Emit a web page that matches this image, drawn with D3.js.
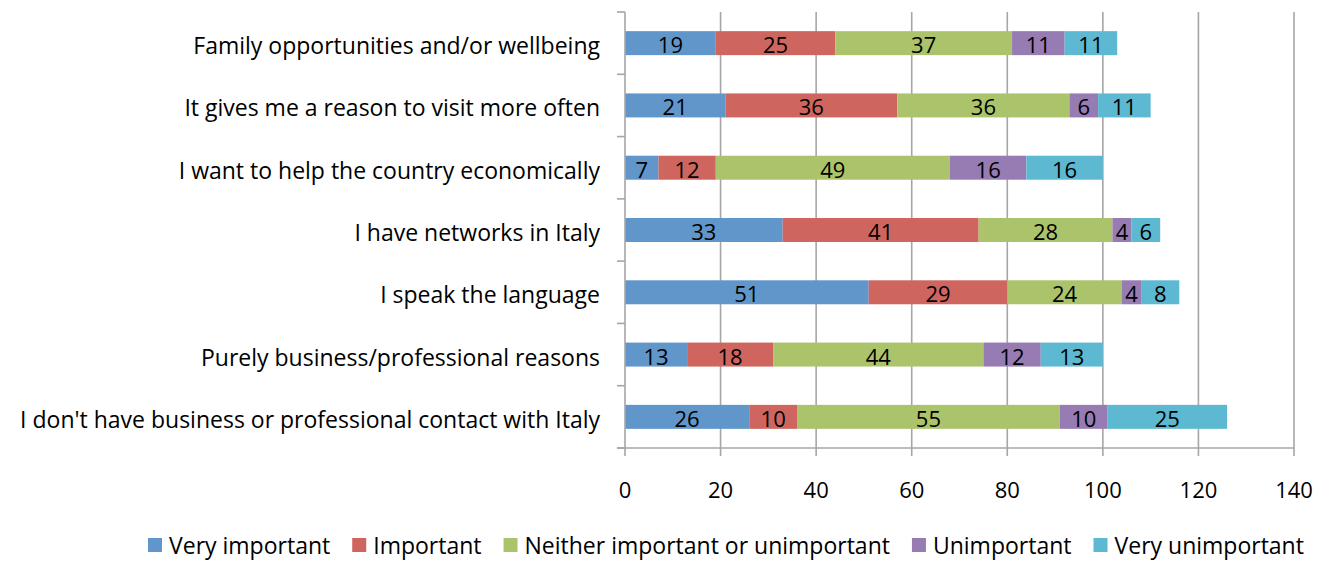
<!DOCTYPE html>
<html>
<head>
<meta charset="utf-8">
<script src="https://cdn.jsdelivr.net/npm/d3@7"></script>
<style>
  html, body { margin: 0; padding: 0; background: #fff; }
  svg { display: block; }
  text { font-family: "Open Sans", "Noto Sans", sans-serif; fill: #000; }
</style>
</head>
<body>
<svg id="chart" width="1333" height="561"></svg>
<script>
// Reasons for engaging with Italy, responses by importance
const categories = [
  "Family opportunities and/or wellbeing",
  "It gives me a reason to visit more often",
  "I want to help the country economically",
  "I have networks in Italy",
  "I speak the language",
  "Purely business/professional reasons",
  "I don't have business or professional contact with Italy"
];
const seriesNames = ["Very important", "Important", "Neither important or unimportant", "Unimportant", "Very unimportant"];
const veryImportant   = [19, 21, 7, 33, 51, 13, 26];
const important       = [25, 36, 12, 41, 29, 18, 10];
const neither         = [37, 36, 49, 28, 24, 44, 55];
const unimportant     = [11, 6, 16, 4, 4, 12, 10];
const veryUnimportant = [11, 11, 16, 6, 8, 13, 25];
const xTicks = [0, 20, 40, 60, 80, 100, 120, 140];
const colors = ["#6096c9", "#cf655f", "#abc46b", "#977bb3", "#5cb9d1"];

const seriesValues = [veryImportant, important, neither, unimportant, veryUnimportant];
const rows = categories.map((c, i) => {
  const r = { category: c };
  seriesNames.forEach((s, j) => { r[s] = seriesValues[j][i]; });
  return r;
});

const svg = d3.select("#chart");
const margin = { left: 625, right: 39, top: 12, bottom: 113 };
const W = 1333, H = 561;
const plotW = W - margin.left - margin.right;
const plotH = H - margin.top - margin.bottom;
const labelSize = 23, numSize = 22;

const x = d3.scaleLinear().domain([0, 140]).range([margin.left, margin.left + plotW]);
const y = d3.scaleBand().domain(categories).range([margin.top, margin.top + plotH]).paddingInner(0.615).paddingOuter(0.3075);

// vertical gridlines
svg.append("g").selectAll("line").data(xTicks.slice(1)).join("line")
  .attr("x1", d => x(d)).attr("x2", d => x(d))
  .attr("y1", margin.top).attr("y2", margin.top + plotH)
  .attr("stroke", "#a6a6a6").attr("stroke-width", 1.6);

const stacked = d3.stack().keys(seriesNames)(rows);

const groups = svg.append("g").selectAll("g").data(stacked).join("g")
  .attr("fill", (d, i) => colors[i]);

groups.selectAll("rect").data(d => d).join("rect")
  .attr("x", d => x(d[0]))
  .attr("width", d => x(d[1]) - x(d[0]))
  .attr("y", d => y(d.data.category))
  .attr("height", y.bandwidth());

groups.selectAll("text").data(d => d).join("text")
  .attr("x", d => (x(d[0]) + x(d[1])) / 2)
  .attr("y", d => y(d.data.category) + y.bandwidth() / 2 + 1)
  .attr("text-anchor", "middle")
  .attr("dominant-baseline", "central")
  .attr("font-size", numSize)
  .text(d => d[1] - d[0]);

// category axis (left)
const yAxisG = svg.append("g");
yAxisG.append("line")
  .attr("x1", margin.left).attr("x2", margin.left)
  .attr("y1", margin.top).attr("y2", margin.top + plotH)
  .attr("stroke", "#a6a6a6").attr("stroke-width", 1.6);
const boundaries = d3.range(categories.length + 1).map(i => margin.top + i * plotH / categories.length);
yAxisG.selectAll("line.tick").data(boundaries).join("line")
  .attr("class", "tick")
  .attr("x1", margin.left - 8).attr("x2", margin.left)
  .attr("y1", d => d).attr("y2", d => d)
  .attr("stroke", "#a6a6a6").attr("stroke-width", 1.6);
yAxisG.selectAll("text").data(categories).join("text")
  .attr("x", margin.left - 25)
  .attr("y", d => y(d) + y.bandwidth() / 2 + 2)
  .attr("text-anchor", "end")
  .attr("dominant-baseline", "central")
  .attr("font-size", labelSize)
  .text(d => d);

// value axis (bottom)
const xAxisG = svg.append("g");
xAxisG.append("line")
  .attr("x1", margin.left - 8).attr("x2", margin.left + plotW)
  .attr("y1", margin.top + plotH).attr("y2", margin.top + plotH)
  .attr("stroke", "#a6a6a6").attr("stroke-width", 1.6);
xAxisG.selectAll("line.tick").data(xTicks).join("line")
  .attr("class", "tick")
  .attr("x1", d => x(d)).attr("x2", d => x(d))
  .attr("y1", margin.top + plotH).attr("y2", margin.top + plotH + 8)
  .attr("stroke", "#a6a6a6").attr("stroke-width", 1.6);
xAxisG.selectAll("text").data(xTicks).join("text")
  .attr("x", d => x(d))
  .attr("y", margin.top + plotH + 41)
  .attr("text-anchor", "middle")
  .attr("dominant-baseline", "central")
  .attr("font-size", numSize)
  .text(d => d);

// legend
const legend = svg.append("g");
let lx = 148;
const ly = 545;
seriesNames.forEach((name, i) => {
  legend.append("rect").attr("x", lx).attr("y", ly - 7).attr("width", 14).attr("height", 14).attr("fill", colors[i]);
  const t = legend.append("text")
    .attr("x", lx + 21).attr("y", ly)
    .attr("dominant-baseline", "central")
    .attr("font-size", labelSize)
    .text(name);
  lx += 21 + t.node().getComputedTextLength() + 22;
});
</script>
</body>
</html>
